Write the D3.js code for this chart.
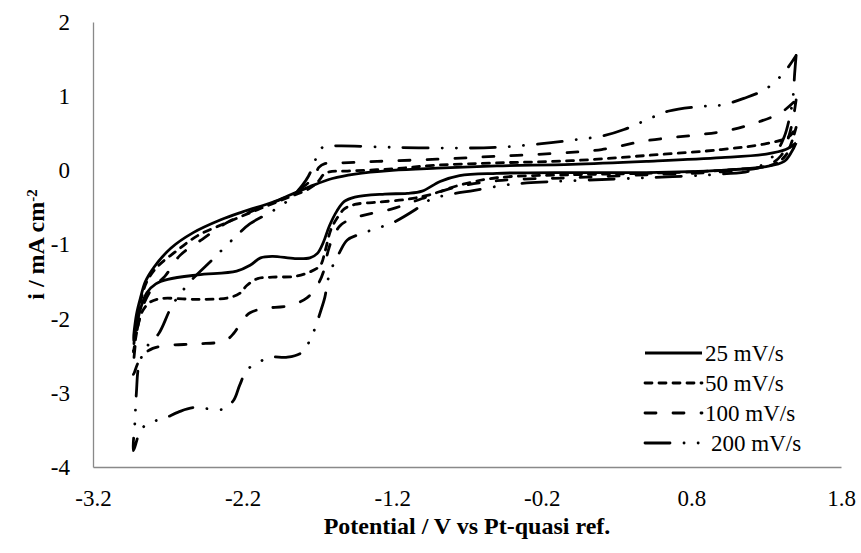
<!DOCTYPE html>
<html>
<head>
<meta charset="utf-8">
<title>Cyclic voltammograms</title>
<script src="https://cdn.jsdelivr.net/npm/d3@7"></script>
<style>
  body { margin: 0; background: #fff; }
  svg { display: block; }
  svg text { font-family: "Liberation Serif", "DejaVu Serif", serif; fill: #000; }
  .axis path { stroke: #898989; stroke-width: 1.3; }
  .axis text { font-size: 23px; }
</style>
</head>
<body>
<script>
// potential (V) / current (mA cm-2) pairs, lower (forward) branch then upper (return) branch
var cv25 = [
  [1.50, 0.37], [1.47, 0.25], [1.42, 0.12], [1.3, 0.05], [1.0, 0.0], [0.5, -0.03], [0.0, -0.03],
  [-0.5, -0.04], [-0.75, -0.07], [-0.88, -0.15], [-1.0, -0.28], [-1.1, -0.31], [-1.25, -0.32],
  [-1.45, -0.36], [-1.52, -0.42], [-1.57, -0.55], [-1.62, -0.75], [-1.66, -0.97], [-1.70, -1.12],
  [-1.75, -1.18], [-1.85, -1.19], [-2.0, -1.16], [-2.08, -1.18], [-2.15, -1.28], [-2.24, -1.36],
  [-2.5, -1.41], [-2.7, -1.47], [-2.78, -1.53], [-2.84, -1.65], [-2.88, -1.85], [-2.91, -2.1],
  [-2.93, -2.29],
  [-2.91, -1.95], [-2.88, -1.7], [-2.85, -1.5], [-2.79, -1.3], [-2.68, -1.05], [-2.53, -0.84],
  [-2.35, -0.67], [-2.2, -0.56], [-2.0, -0.43], [-1.88, -0.33], [-1.75, -0.22], [-1.6, -0.11],
  [-1.45, -0.05], [-1.2, 0.0], [-0.9, 0.03], [-0.5, 0.06], [0.0, 0.08], [0.5, 0.12], [1.0, 0.17],
  [1.3, 0.22], [1.43, 0.28], [1.50, 0.37]
];
var cv50 = [
  [1.50, 0.58], [1.47, 0.38], [1.43, 0.2], [1.35, 0.08], [1.0, 0.0], [0.5, -0.04], [0.0, -0.06],
  [-0.5, -0.1], [-0.75, -0.2], [-0.95, -0.33], [-1.1, -0.39], [-1.3, -0.43], [-1.45, -0.46],
  [-1.52, -0.52], [-1.57, -0.65], [-1.61, -0.8], [-1.65, -1.1], [-1.68, -1.28], [-1.75, -1.37],
  [-1.85, -1.43], [-2.0, -1.44], [-2.1, -1.46], [-2.17, -1.55], [-2.22, -1.66], [-2.3, -1.72],
  [-2.5, -1.74], [-2.75, -1.73], [-2.82, -1.78], [-2.87, -1.9], [-2.9, -2.1], [-2.93, -2.45],
  [-2.91, -2.05], [-2.88, -1.75], [-2.84, -1.5], [-2.77, -1.3], [-2.65, -1.1], [-2.5, -0.88],
  [-2.3, -0.7], [-2.1, -0.53], [-1.9, -0.37], [-1.75, -0.24], [-1.69, -0.14], [-1.66, -0.06],
  [-1.62, -0.02], [-1.5, -0.01], [-1.2, 0.02], [-0.9, 0.07], [-0.5, 0.1], [0.0, 0.13], [0.5, 0.2],
  [1.0, 0.28], [1.3, 0.36], [1.45, 0.45], [1.50, 0.58]
];
var cv100 = [
  [1.50, 0.95], [1.48, 0.7], [1.45, 0.45], [1.4, 0.2], [1.3, 0.06], [1.0, -0.02], [0.5, -0.06],
  [0.0, -0.1], [-0.5, -0.14], [-0.8, -0.24], [-1.0, -0.38], [-1.2, -0.52], [-1.4, -0.61],
  [-1.5, -0.68], [-1.55, -0.75], [-1.6, -0.92], [-1.63, -1.1], [-1.66, -1.37], [-1.70, -1.55],
  [-1.77, -1.72], [-1.9, -1.83], [-2.05, -1.86], [-2.15, -1.92], [-2.2, -2.02], [-2.26, -2.2],
  [-2.32, -2.3], [-2.5, -2.34], [-2.7, -2.36], [-2.8, -2.4], [-2.86, -2.48], [-2.9, -2.6],
  [-2.93, -2.75],
  [-2.92, -2.4], [-2.9, -2.1], [-2.86, -1.8], [-2.8, -1.58], [-2.72, -1.43], [-2.62, -1.15],
  [-2.47, -0.93], [-2.3, -0.7], [-2.1, -0.52], [-1.9, -0.35], [-1.78, -0.2], [-1.72, -0.08],
  [-1.69, 0.04], [-1.65, 0.09], [-1.55, 0.1], [-1.3, 0.12], [-0.9, 0.15], [-0.5, 0.19],
  [-0.1, 0.23], [0.2, 0.28], [0.5, 0.4], [0.8, 0.47], [1.0, 0.52], [1.2, 0.62], [1.4, 0.78],
  [1.50, 0.95]
];
var cv200 = [
  [1.50, 1.55], [1.49, 1.3], [1.48, 1.0], [1.46, 0.75], [1.42, 0.45], [1.35, 0.2], [1.2, 0.0],
  [1.0, -0.05], [0.5, -0.1], [0.0, -0.14], [-0.3, -0.17], [-0.45, -0.2], [-0.65, -0.27],
  [-0.83, -0.33], [-0.95, -0.4], [-1.03, -0.51], [-1.19, -0.7], [-1.3, -0.78], [-1.4, -0.85],
  [-1.5, -0.94], [-1.55, -1.1], [-1.6, -1.3], [-1.63, -1.48], [-1.65, -1.71], [-1.68, -1.91],
  [-1.72, -2.15], [-1.75, -2.29], [-1.80, -2.45], [-1.9, -2.52], [-2.02, -2.52], [-2.1, -2.6],
  [-2.17, -2.69], [-2.22, -2.9], [-2.26, -3.1], [-2.33, -3.22], [-2.53, -3.2], [-2.63, -3.26],
  [-2.73, -3.35], [-2.82, -3.4], [-2.88, -3.5], [-2.93, -3.78],
  [-2.92, -3.4], [-2.91, -3.0], [-2.89, -2.6], [-2.83, -2.35], [-2.76, -2.2], [-2.67, -1.82],
  [-2.55, -1.5], [-2.40, -1.2], [-2.25, -0.9], [-2.15, -0.72], [-2.0, -0.55], [-1.88, -0.38],
  [-1.8, -0.2], [-1.76, -0.08], [-1.72, 0.1], [-1.69, 0.27], [-1.65, 0.32], [-1.55, 0.33],
  [-1.2, 0.31], [-0.8, 0.30], [-0.5, 0.31], [-0.2, 0.36], [0.05, 0.42], [0.2, 0.46], [0.35, 0.55],
  [0.5, 0.68], [0.65, 0.8], [0.85, 0.86], [1.0, 0.88], [1.15, 0.97], [1.3, 1.1], [1.42, 1.32],
  [1.50, 1.55]
];

var seriesNames = ["25 mV/s", "50 mV/s", "100 mV/s", "200 mV/s"];
var xTicks = [-3.2, -2.2, -1.2, -0.2, 0.8, 1.8];
var yTicks = [-4, -3, -2, -1, 0, 1, 2];

var dashes = ["none", "7,7", "11,17", "25,14,0.1,14,0.1,14"];
var allSeries = [cv25, cv50, cv100, cv200];

var margin = {top: 22, right: 20, bottom: 86, left: 93},
    W = 861, H = 553,
    width = W - margin.left - margin.right,
    height = H - margin.top - margin.bottom;

var svg = d3.select("body").append("svg")
  .attr("width", W).attr("height", H);

var x = d3.scaleLinear().domain([-3.2, 1.8]).range([0, width]);
var y = d3.scaleLinear().domain([-4, 2]).range([height, 0]);

var g = svg.append("g")
  .attr("transform", "translate(" + margin.left + "," + margin.top + ")");

// axes, no tick marks
g.append("g")
  .attr("class", "axis")
  .attr("transform", "translate(0," + height + ")")
  .call(d3.axisBottom(x).tickValues(xTicks).tickSize(0).tickPadding(23)
    .tickFormat(function (d) { return d.toFixed(1); }));
g.append("g")
  .attr("class", "axis")
  .call(d3.axisLeft(y).tickValues(yTicks).tickSize(0).tickPadding(23)
    .tickFormat(function (d) { return String(d); }));
g.selectAll(".axis").attr("font-family", null).attr("font-size", null);

var line = d3.line()
  .x(function (d) { return x(d[0]); })
  .y(function (d) { return y(d[1]); })
  .curve(d3.curveCatmullRom.alpha(0.5));

g.selectAll(".cv")
  .data(allSeries)
  .enter().append("path")
  .attr("class", "cv")
  .attr("d", line)
  .attr("fill", "none")
  .attr("stroke", "#000")
  .attr("stroke-width", 2.8)
  .attr("stroke-linecap", function (d, i) { return i === 0 ? "butt" : "round"; })
  .attr("stroke-linejoin", "round")
  .attr("stroke-dasharray", function (d, i) { return dashes[i]; });

// legend
var leg = svg.append("g").attr("transform", "translate(645,353)");
var rows = leg.selectAll("g").data(seriesNames).enter().append("g")
  .attr("transform", function (d, i) { return "translate(0," + (i * 30) + ")"; });
rows.append("line")
  .attr("x1", 0).attr("x2", 57).attr("y1", 0).attr("y2", 0)
  .attr("stroke", "#000").attr("stroke-width", 2.8)
  .attr("stroke-linecap", function (d, i) { return i === 0 ? "butt" : "round"; })
  .attr("stroke-dasharray", function (d, i) { return dashes[i]; });
rows.append("text")
  .attr("x", function (d, i) { return i === 3 ? 66 : 60; })
  .attr("y", 0).attr("dy", "0.35em")
  .style("font-size", "23px")
  .text(function (d) { return d; });

// axis titles
svg.append("text")
  .attr("x", margin.left + width / 2).attr("y", 534)
  .attr("text-anchor", "middle")
  .style("font-size", "24px").style("font-weight", "bold")
  .text("Potential / V vs Pt-quasi ref.");

var yt = svg.append("text")
  .attr("transform", "translate(44," + (margin.top + height / 2) + ") rotate(-90)")
  .attr("text-anchor", "middle")
  .style("font-size", "24px").style("font-weight", "bold");
yt.append("tspan").text("i / mA cm");
yt.append("tspan").attr("dy", "-0.45em").style("font-size", "15px").text("-2");
</script>
</body>
</html>
